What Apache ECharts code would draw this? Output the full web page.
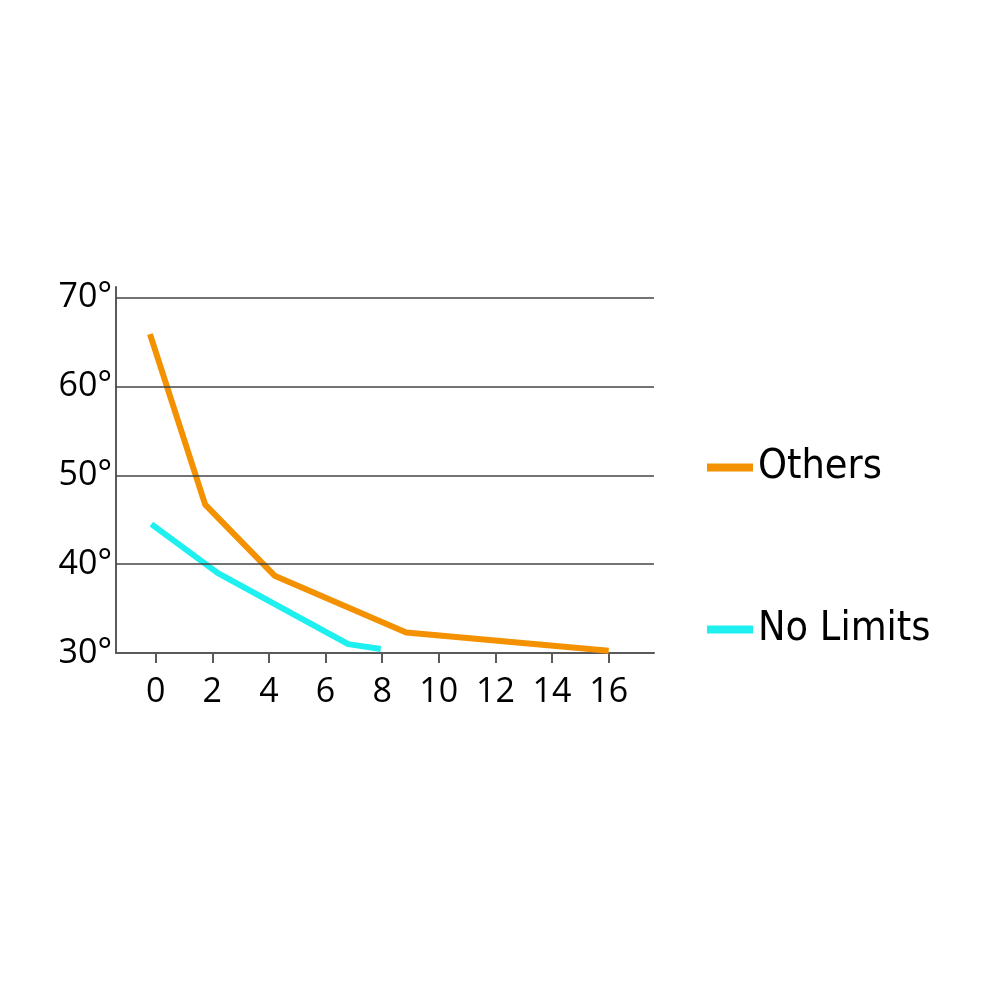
<!DOCTYPE html>
<html>
<head>
<meta charset="utf-8">
<script src="https://cdn.jsdelivr.net/npm/echarts@6/dist/echarts.min.js"></script>
<style>html,body{margin:0;padding:0;background:#fff}#c{width:1000px;height:1000px}</style>
</head>
<body>
<div id="c"></div>
<script>
// Data
const seriesNames = ['Others', 'No Limits'];
const othersX = [-0.2, 1.75, 4.2, 8.85, 16];
const othersY = [65.9, 46.7, 38.7, 32.3, 30.25];
const noLimitsX = [-0.15, 2.2, 6.8, 7.95];
const noLimitsY = [44.5, 39.0, 31.0, 30.45];
const xTicks = [0, 2, 4, 6, 8, 10, 12, 14, 16];
const yTicks = [30, 40, 50, 60, 70];
const yGridLines = [40, 50, 60, 70];

const zip = (xs, ys) => xs.map((x, i) => [x, ys[i]]);
const axisColor = '#5a5a5a';
const labelFont = '"Open Sans", "Noto Sans", sans-serif';
const legendFont = '"DejaVu Sans Condensed", "Liberation Sans", sans-serif';

const chart = echarts.init(document.getElementById('c'), null, {renderer: 'canvas'});
chart.setOption({
  animation: false,
  backgroundColor: '#ffffff',
  grid: {left: 116, right: 346, top: 287, bottom: 347, containLabel: false},
  legend: [
    {data: [seriesNames[0]], left: 707, top: 447, padding: 0, icon: 'rect', itemWidth: 46, itemHeight: 8,
     textStyle: {fontFamily: legendFont, fontSize: 41, color: '#000'}},
    {data: [seriesNames[1]], left: 707, top: 609, padding: 0, icon: 'rect', itemWidth: 46, itemHeight: 8,
     textStyle: {fontFamily: legendFont, fontSize: 41, color: '#000'}}
  ],
  xAxis: {
    type: 'value', min: -1.4, max: 17.6,
    axisLine: {show: true, onZero: false, lineStyle: {color: axisColor, width: 2}},
    axisTick: {show: true, length: 10, customValues: xTicks, lineStyle: {color: axisColor, width: 2}},
    axisLabel: {customValues: xTicks, margin: 22, color: '#000', fontFamily: labelFont, fontSize: 34},
    splitLine: {show: false}
  },
  yAxis: {
    type: 'value', min: 30, max: 71.2,
    axisLine: {show: true, onZero: false, lineStyle: {color: axisColor, width: 2}},
    axisTick: {show: false},
    axisLabel: {customValues: yTicks, formatter: '{value}°', margin: 4, color: '#000', fontFamily: labelFont, fontSize: 34},
    splitLine: {show: false}
  },
  series: [
    {
      name: seriesNames[0], type: 'line', data: zip(othersX, othersY),
      showSymbol: false, symbol: 'none', color: '#f39100',
      lineStyle: {width: 6, color: '#f39100'},
      markLine: {
        silent: true, symbol: ['none', 'none'], label: {show: false},
        lineStyle: {color: '#444', width: 1.5, type: 'solid'},
        data: yGridLines.map(v => ({yAxis: v}))
      },
      z: 3
    },
    {
      name: seriesNames[1], type: 'line', data: zip(noLimitsX, noLimitsY),
      showSymbol: false, symbol: 'none', color: '#1ef0f0',
      lineStyle: {width: 6, color: '#1ef0f0'},
      z: 4
    }
  ]
});
</script>
</body>
</html>
